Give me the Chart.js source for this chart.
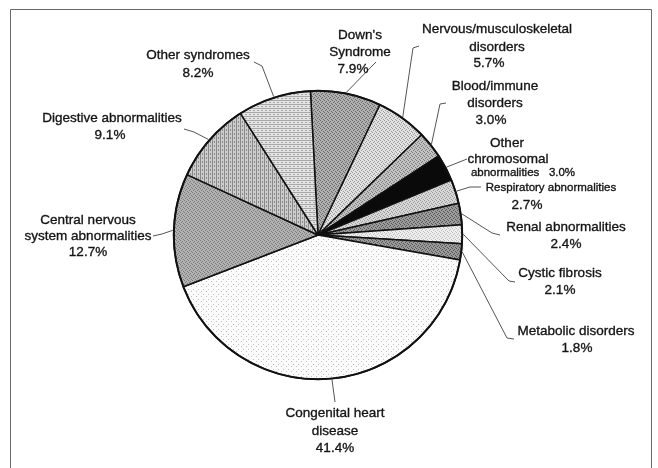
<!DOCTYPE html>
<html>
<head>
<meta charset="utf-8">
<script src="https://cdn.jsdelivr.net/npm/chart.js@4/dist/chart.umd.min.js"></script>
<style>
  body { margin: 0; background: #fff; }
  #wrap { width: 658px; height: 468px; }
</style>
</head>
<body>
<div id="wrap"><canvas id="grafico" width="658" height="468"></canvas></div>
<script>
// data (clockwise from 12 o'clock)
const categorias = ["Down's Syndrome", "Nervous/musculoskeletal disorders", "Blood/immune disorders",
    "Other chromosomal abnormalities", "Respiratory abnormalities", "Renal abnormalities",
    "Cystic fibrosis", "Metabolic disorders", "Congenital heart disease",
    "Central nervous system abnormalities", "Digestive abnormalities", "Other syndromes"];
const percentuais = [7.9, 5.7, 3.0, 3.0, 2.7, 2.4, 2.1, 1.8, 41.4, 12.7, 9.1, 8.2];

// label text blocks: lines ({p} = percentage), centre x / y of each line, leader path after the arc point
const rotulos = [
    { linhas: [["Down's", 360, 35], ["Syndrome", 360, 52], ["{p}", 353, 69]], guia: [[372, 66], [376, 62]] },
    { linhas: [["Nervous/musculoskeletal", 497, 29], ["disorders", 497, 47], ["{p}", 489, 63]], guia: [[413, 48], [419, 46]] },
    { linhas: [["Blood/immune", 495, 86], ["disorders", 495, 103], ["{p}", 491, 120]], guia: [[440, 104], [446, 103]] },
    { linhas: [["Other", 507, 143], ["chromosomal", 508, 159], ["abnormalities   {p}", 523, 173, 11.5]], guia: [[467, 159]] },
    { linhas: [["Respiratory abnormalities", 551, 188, 11.5], ["{p}", 527, 205]], guia: [[470, 187], [481, 187]] },
    { linhas: [["Renal abnormalities", 566, 227], ["{p}", 566, 244]], guia: [[492, 233], [500, 235]] },
    { linhas: [["Cystic fibrosis", 560, 273], ["{p}", 560, 290]], guia: [[509, 281], [515, 282]] },
    { linhas: [["Metabolic disorders", 576, 331], ["{p}", 577, 348]], guia: [[507, 338], [514, 339]] },
    { linhas: [["Congenital heart", 335, 413], ["disease", 335, 431], ["{p}", 335, 448]], guia: [[335, 402]] },
    { linhas: [["Central nervous", 88, 220], ["system abnormalities", 88, 236], ["{p}", 88, 252]], guia: [[162, 234], [153, 236]] },
    { linhas: [["Digestive abnormalities", 112, 118], ["{p}", 110, 135]], guia: [[194, 132], [184, 129]] },
    { linhas: [["Other syndromes", 198, 55], ["{p}", 198, 73]], guia: [[262, 66], [254, 62]] }
];

// tons e texturas (scan-like grays)
const estilos = [
    ['#b0b0b0', '#6a6a6a', 'pontos'],
    ['#e2e2e2', '#9a9a9a', 'pontos'],
    ['#c2c2c2', '#7c7c7c', 'pontos'],
    ['#0a0a0a', '#0a0a0a', 'liso'],
    ['#d8d8d8', '#999999', 'pontos'],
    ['#9c9c9c', '#555555', 'pontos'],
    ['#efefef', '#bdbdbd', 'pontos'],
    ['#9a9a9a', '#555555', 'pontos'],
    ['#fbfbfb', '#c0c0c0', 'raro'],
    ['#b2b2b2', '#7a7a7a', 'pontos'],
    ['#cdcdcd', '#888888', 'vert'],
    ['#e4e4e4', '#a8a8a8', 'horiz']
];

const canvas = document.getElementById('grafico');
const ctx = canvas.getContext('2d');

function criarTextura(base, tinta, tipo) {
    const t = document.createElement('canvas');
    const n = tipo === 'raro' ? 5 : 4;
    t.width = n; t.height = n;
    const g = t.getContext('2d');
    g.fillStyle = base;
    g.fillRect(0, 0, n, n);
    g.fillStyle = tinta;
    if (tipo === 'pontos') {
        g.fillRect(0, 0, 1, 1); g.fillRect(2, 1, 1, 1); g.fillRect(1, 2, 1, 1); g.fillRect(3, 3, 1, 1);
    } else if (tipo === 'raro') {
        g.fillRect(1, 1, 1, 1); g.fillRect(3, 4, 1, 1);
    } else if (tipo === 'vert') {
        g.fillRect(0, 0, 1, n); g.fillRect(2, 1, 1, 2);
    } else if (tipo === 'horiz') {
        g.fillRect(0, 0, n, 1); g.fillRect(1, 2, 2, 1);
    }
    return ctx.createPattern(t, 'repeat');
}

const preenchimentos = estilos.map(e => criarTextura(e[0], e[1], e[2]));

const pluginMoldura = {
    id: 'moldura',
    beforeDraw(chart) {
        const c = chart.ctx;
        c.save();
        c.fillStyle = '#fff';
        c.fillRect(0, 0, chart.width, chart.height);
        c.strokeStyle = '#6a6a6a';
        c.lineWidth = 1;
        c.beginPath();
        c.moveTo(10.5, 468); c.lineTo(10.5, 9.5); c.lineTo(651.5, 9.5); c.lineTo(651.5, 468);
        c.stroke();
        c.restore();
    }
};

const pluginRotulos = {
    id: 'rotulos',
    afterDatasetsDraw(chart) {
        const c = chart.ctx;
        const arcos = chart.getDatasetMeta(0).data;
        c.save();
        // outer rim a bit heavier
        const a0 = arcos[0];
        c.beginPath();
        c.arc(a0.x, a0.y, a0.outerRadius, 0, Math.PI * 2);
        c.strokeStyle = '#111';
        c.lineWidth = 2;
        c.stroke();

        arcos.forEach((arco, i) => {
            const r = rotulos[i];
            const meio = (arco.startAngle + arco.endAngle) / 2;
            const px = arco.x + Math.cos(meio) * (arco.outerRadius + 1);
            const py = arco.y + Math.sin(meio) * (arco.outerRadius + 1);
            c.beginPath();
            c.moveTo(px, py);
            r.guia.forEach(p => c.lineTo(p[0], p[1]));
            c.strokeStyle = '#555';
            c.lineWidth = 1;
            c.stroke();

            c.fillStyle = '#151515';
            c.strokeStyle = '#151515';
            c.lineWidth = 0.35;
            c.textAlign = 'center';
            c.textBaseline = 'middle';
            r.linhas.forEach(l => {
                const tam = l[3] || 13.5;
                c.font = tam + 'px "Liberation Sans", Arial, sans-serif';
                const txt = l[0].replace('{p}', percentuais[i].toFixed(1) + '%');
                c.fillText(txt, l[1], l[2]);
                c.strokeText(txt, l[1], l[2]);
            });
        });
        c.restore();
    }
};

new Chart(ctx, {
    type: 'pie',
    data: {
        labels: categorias,
        datasets: [{
            data: percentuais,
            backgroundColor: preenchimentos,
            borderColor: '#111',
            borderWidth: 1.5,
        }]
    },
    options: {
        responsive: false,
        animation: false,
        rotation: -3,
        layout: {
            padding: { left: 173, right: 195, top: 90, bottom: 88 }
        },
        plugins: {
            legend: { display: false },
            tooltip: { enabled: false },
        },
    },
    plugins: [pluginMoldura, pluginRotulos]
});
</script>
</body>
</html>
